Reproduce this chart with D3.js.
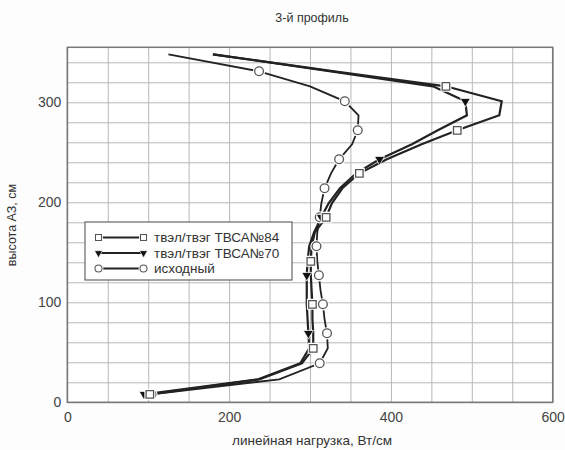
<!DOCTYPE html>
<html>
<head>
<meta charset="utf-8">
<script src="https://cdn.jsdelivr.net/npm/d3@7"></script>
<style>
  html, body { margin: 0; padding: 0; background: #fdfdfd; }
  svg { display: block; font-family: "Liberation Sans", Arial, sans-serif; }
</style>
</head>
<body>
<svg id="chart" width="565" height="450"></svg>
<script>
// Heights along the core (cm)
const heights = [8, 23, 39, 54, 69, 83, 98, 112, 127, 141, 156, 170, 185, 199, 214, 229, 243, 258, 272, 287, 301, 316, 331, 348];

// Linear power, W/cm
const tvsa84 = [102, 238, 290, 304, 304, 303, 303, 302, 301, 301, 302, 306, 320, 327, 340, 361, 395, 438, 482, 534, 537, 468, 330, 180];
const tvsa70 = [95, 236, 288, 299, 298, 297, 296, 296, 296, 297, 299, 305, 314, 323, 337, 357, 386, 426, 458, 494, 492, 452, 326, 180];
const baseline = [104, 262, 312, 322, 321, 318, 316, 313, 311, 309, 308, 309, 312, 314, 318, 326, 336, 352, 359, 360, 343, 300, 237, 125];

// Every n-th point carries a marker
const markerStep = { sq: 3, tri: 4, circ: 2 };

const xTicks = [0, 200, 400, 600];
const yTicks = [0, 100, 200, 300];
const legendLabels = ["твэл/твэг ТВСА№84", "твэл/твэг ТВСА№70", "исходный"];

const svg = d3.select("#chart");
const m = { left: 67.3, right: 552.7, top: 47.3, bottom: 402.3 };

const x = d3.scaleLinear().domain([0, 600]).range([m.left, m.right]);
const y = d3.scaleLinear().domain([0, 355]).range([m.bottom, m.top]);

// plot background
svg.append("rect").attr("x", m.left).attr("y", m.top)
  .attr("width", m.right - m.left).attr("height", m.bottom - m.top)
  .attr("fill", "#fff");

// grid
const gx = svg.append("g").attr("transform", `translate(0,${m.bottom})`)
  .call(d3.axisBottom(x).tickValues(d3.range(0, 601, 50)).tickSize(-(m.bottom - m.top)).tickFormat(""));
const gy = svg.append("g").attr("transform", `translate(${m.left},0)`)
  .call(d3.axisLeft(y).tickValues(d3.range(0, 355, 20)).tickSize(-(m.right - m.left)).tickFormat(""));
[gx, gy].forEach(g => {
  g.select(".domain").remove();
  g.selectAll(".tick line").attr("stroke", "#b8b8b8").attr("stroke-width", 1);
});

// frame
svg.append("rect").attr("x", m.left).attr("y", m.top)
  .attr("width", m.right - m.left).attr("height", m.bottom - m.top)
  .attr("fill", "none").attr("stroke", "#777").attr("stroke-width", 1.5);

// tick labels
const ax = svg.append("g").attr("transform", `translate(0,${m.bottom})`)
  .call(d3.axisBottom(x).tickValues(xTicks).tickSize(0).tickPadding(10).tickFormat(d3.format("d")));
const ay = svg.append("g").attr("transform", `translate(${m.left},0)`)
  .call(d3.axisLeft(y).tickValues(yTicks).tickSize(0).tickPadding(6).tickFormat(d3.format("d")));
[ax, ay].forEach(g => {
  g.select(".domain").remove();
  g.selectAll("text").attr("font-size", 14).attr("fill", "#444")
    .attr("font-family", "'Liberation Sans', Arial, sans-serif");
});

// titles
svg.append("text").attr("x", 312).attr("y", 22).attr("text-anchor", "middle")
  .attr("font-size", 12.5).attr("fill", "#333").text("3-й профиль");
svg.append("text").attr("x", 312).attr("y", 445).attr("text-anchor", "middle")
  .attr("font-size", 13.5).attr("fill", "#333").text("линейная нагрузка, Вт/см");
svg.append("text").attr("transform", "translate(16,225) rotate(-90)").attr("text-anchor", "middle")
  .attr("font-size", 12.5).attr("fill", "#333").text("высота АЗ, см");

const line = d3.line().x(d => x(d.v)).y(d => y(d.h));
const toPts = arr => arr.map((v, i) => ({ v, h: heights[i], i }));

const series = [
  { data: toPts(baseline), kind: "circ", width: 1.8 },
  { data: toPts(tvsa70), kind: "tri", width: 2.2 },
  { data: toPts(tvsa84), kind: "sq", width: 2.2 }
];

series.forEach(s => {
  svg.append("path").datum(s.data).attr("d", line)
    .attr("fill", "none").attr("stroke", "#222").attr("stroke-width", s.width)
    .attr("stroke-linejoin", "miter");
});

const sym = {
  sq: d3.symbol().type(d3.symbolSquare).size(56),
  circ: d3.symbol().type(d3.symbolCircle).size(60),
  tri: d3.symbol().type(d3.symbolTriangle).size(44)
};

function drawMarker(g, kind, cx, cy, scale) {
  const tf = `translate(${cx},${cy})` + (kind === "tri" ? " rotate(180)" : "") + ` scale(${scale})`;
  if (kind !== "tri") {
    // white halo that opens a small gap in the line around hollow markers
    g.append("path").attr("d", sym[kind]()).attr("transform", tf)
      .attr("fill", "#fff").attr("stroke", "#fff").attr("stroke-width", 3.5);
  }
  const p = g.append("path").attr("d", sym[kind]()).attr("transform", tf);
  if (kind === "tri") {
    p.attr("fill", "#111").attr("stroke", "#fff").attr("stroke-width", 0.8);
  } else {
    p.attr("fill", "#fff").attr("stroke", "#555").attr("stroke-width", 1.3);
  }
}

const markers = svg.append("g");
series.forEach(s => {
  s.data.filter(d => d.i % markerStep[s.kind] === 0).forEach(d => {
    drawMarker(markers, s.kind, x(d.v), y(d.h), 1);
  });
});

// legend
const lg = svg.append("g");
lg.append("rect").attr("x", 85).attr("y", 222).attr("width", 207).attr("height", 58)
  .attr("fill", "#fff").attr("stroke", "#666").attr("stroke-width", 1.2);
const lk = ["sq", "tri", "circ"];
lk.forEach((k, i) => {
  const ly = 237.5 + i * 15.5;
  lg.append("line").attr("x1", 101).attr("x2", 141).attr("y1", ly).attr("y2", ly)
    .attr("stroke", "#222").attr("stroke-width", 2);
  drawMarker(lg, k, 98.5, ly, 0.8);
  drawMarker(lg, k, 143.5, ly, 0.8);
  lg.append("text").attr("x", 154).attr("y", ly + 4.8).attr("font-size", 13.5)
    .attr("fill", "#333").text(legendLabels[i]);
});
</script>
</body>
</html>
